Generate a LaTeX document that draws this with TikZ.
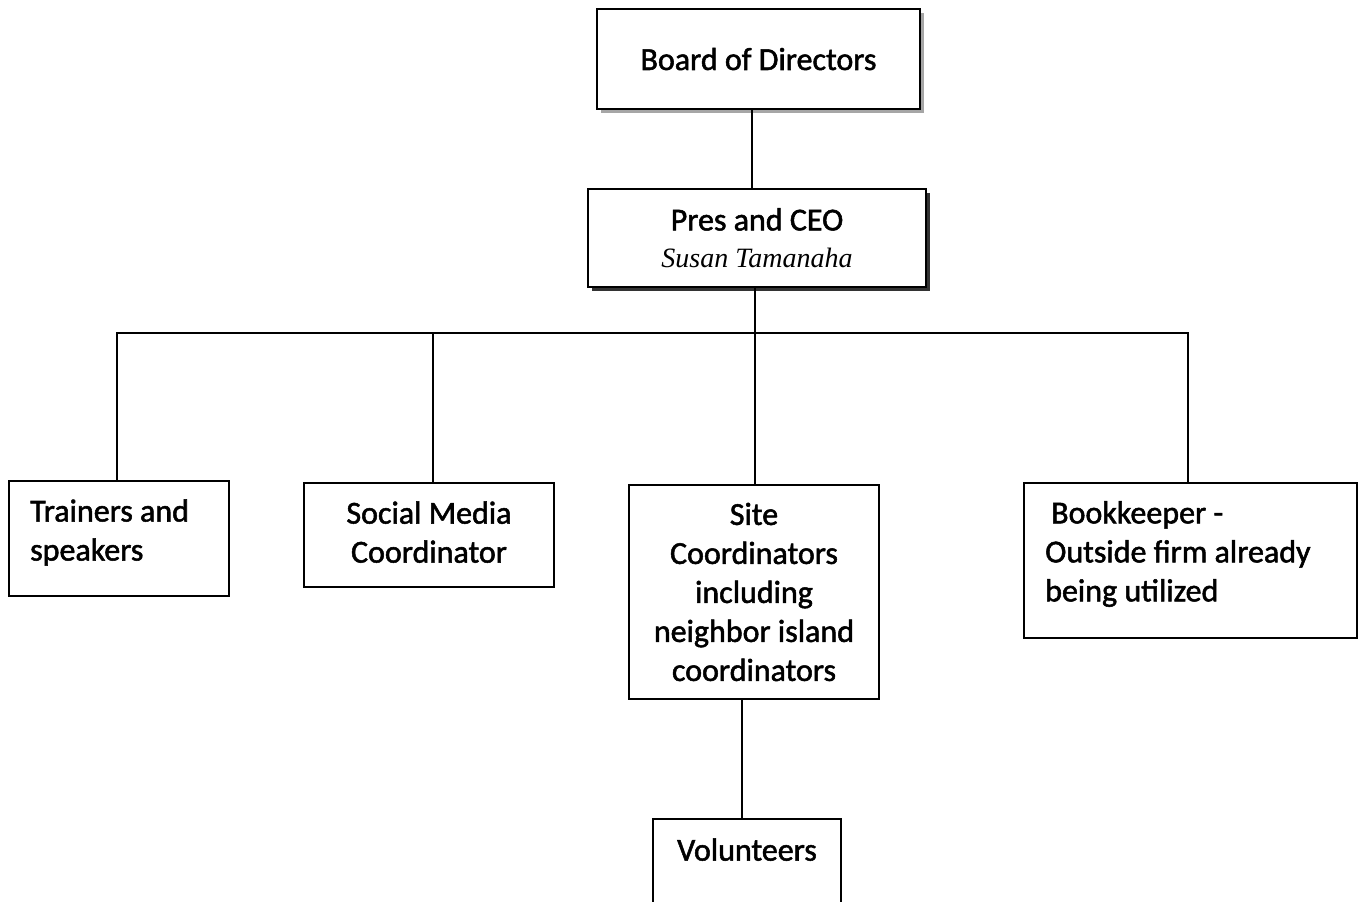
\documentclass[tikz,border=0pt]{standalone}
\usepackage{fontspec}
\setmainfont{Carlito}[BoldFont=Carlito, BoldFeatures={FakeBold=1.6}]
\newfontfamily\serifit{Liberation Serif}
\usetikzlibrary{shadows}
\begin{document}
\begin{tikzpicture}[x=1pt,y=-1pt,
  txt/.style={inner sep=0pt, font=\fontsize{32}{39}\selectfont\bfseries},
  box/.style={txt, draw=black, line width=2pt, fill=white, anchor=north west},
  link/.style={line width=2.2pt}]
\useasboundingbox (0,0) rectangle (1361,902);
% boxes
\node[box, drop shadow={shadow xshift=4pt, shadow yshift=-4pt, fill=gray!70, opacity=1},
  minimum width=323pt, minimum height=100pt] (board) at (596,8) {Board of Directors};
\node[box, drop shadow={shadow xshift=4pt, shadow yshift=-4pt, fill=black!80, opacity=1},
  minimum width=338pt, minimum height=98pt, align=center] (pres) at (587,188)
  {Pres and CEO\\[-2pt]{\mdseries\serifit\itshape\fontsize{28}{37}\selectfont Susan Tamanaha}};
\node[box, minimum width=220pt, minimum height=115pt] (train) at (8,480) {};
\node[txt, anchor=west, align=left] (traintxt) at (30,532.5) {Trainers and\\speakers};
\node[box, minimum width=250pt, minimum height=104pt, align=center] (social) at (303,482)
  {Social Media\\Coordinator\\[-33pt]};
\node[box, minimum width=250pt, minimum height=214pt, align=center] (site) at (628,484)
  {Site\\Coordinators\\including\\neighbor island\\coordinators};
\node[box, minimum width=333pt, minimum height=155pt] (book) at (1023,482) {};
\node[txt, anchor=west, align=left] (booktxt) at (1045,554)
  {\hspace{6pt}Bookkeeper -\\Outside firm already\\being utilized};
\node[box, minimum width=188pt, minimum height=90pt, align=center] (vol) at (652,818)
  {Volunteers\\[-10pt]};
% connectors
\coordinate (bus) at (755,333);
\draw[link] (board.south -| 752,0) -- (pres.north -| 752,0);
\draw[link] (pres.south -| 755,0) -- (bus);
\draw[link] (train.north -| 117,0) -- (117,333) -- (1188,333) -- (book.north -| 1188,0);
\draw[link] (social.north -| 433,0) -- (433,333);
\draw[link] (bus) -- (site.north -| 755,0);
\draw[link] (site.south -| 742,0) -- (vol.north -| 742,0);
\end{tikzpicture}
\end{document}
